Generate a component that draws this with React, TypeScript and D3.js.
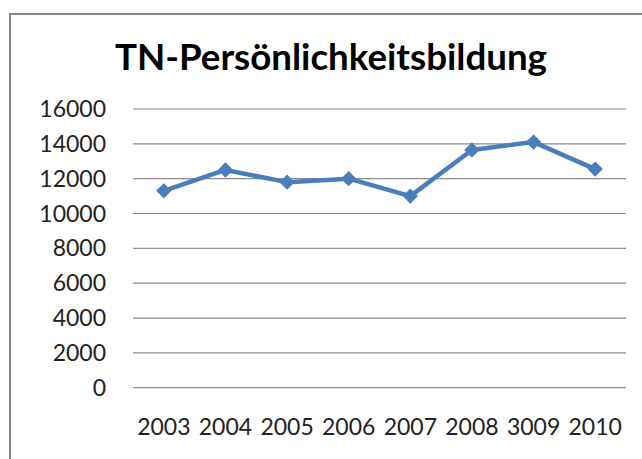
import React from "react";
import * as d3 from "d3";

const title = "TN-Persönlichkeitsbildung";
const categories = ["2003", "2004", "2005", "2006", "2007", "2008", "3009", "2010"];
const values = [11300, 12500, 11800, 12000, 11000, 13650, 14100, 12550];
const yTicks = [0, 2000, 4000, 6000, 8000, 10000, 12000, 14000, 16000];

const W = 642;
const H = 459;
const FONT = "Lato, 'Open Sans', sans-serif";

export default function App() {
  const x = d3.scaleBand<string>().domain(categories).range([133, 626]);
  const y = d3.scaleLinear().domain([0, 16000]).range([387.7, 109]);
  const cx = (c: string) => (x(c) as number) + x.bandwidth() / 2;
  const line = d3
    .line<number>()
    .x((_, i) => cx(categories[i]))
    .y((v) => y(v));
  const diamond = d3.symbol().type(d3.symbolDiamond2).size(150)();

  return (
    <svg
      width={W}
      height={H}
      style={{ position: "absolute", left: 0, top: 0, background: "#fff" }}
    >
      <rect x={0} y={0} width={W} height={H} fill="#fff" />
      {/* chart border (top and left visible) */}
      <path d={`M10,${H} L10,14 L${W},14`} fill="none" stroke="#878787" strokeWidth={2} />
      <text
        x={331}
        y={70}
        textAnchor="middle"
        fontFamily={FONT}
        fontWeight="bold"
        fontSize={37}
        textLength={432}
        lengthAdjust="spacingAndGlyphs"
        fill="#000"
      >
        {title}
      </text>
      {yTicks.map((t) => (
        <g key={t}>
          <line x1={133} x2={626} y1={y(t)} y2={y(t)} stroke="#8c8c8c" strokeWidth={1.2} />
          <text
            x={106}
            y={y(t) + 8}
            textAnchor="end"
            fontFamily={FONT}
            fontSize={23}
            fill="#222"
          >
            {t}
          </text>
        </g>
      ))}
      {categories.map((c) => (
        <text
          key={c}
          x={cx(c)}
          y={435}
          textAnchor="middle"
          fontFamily={FONT}
          fontSize={23}
          fill="#222"
        >
          {c}
        </text>
      ))}
      <path
        d={line(values) || ""}
        fill="none"
        stroke="#4a7ebb"
        strokeWidth={4.5}
        strokeLinejoin="round"
      />
      {values.map((v, i) => (
        <path
          key={categories[i]}
          d={diamond || ""}
          transform={`translate(${cx(categories[i])},${y(v)})`}
          fill="#4a7ebb"
        />
      ))}
    </svg>
  );
}
